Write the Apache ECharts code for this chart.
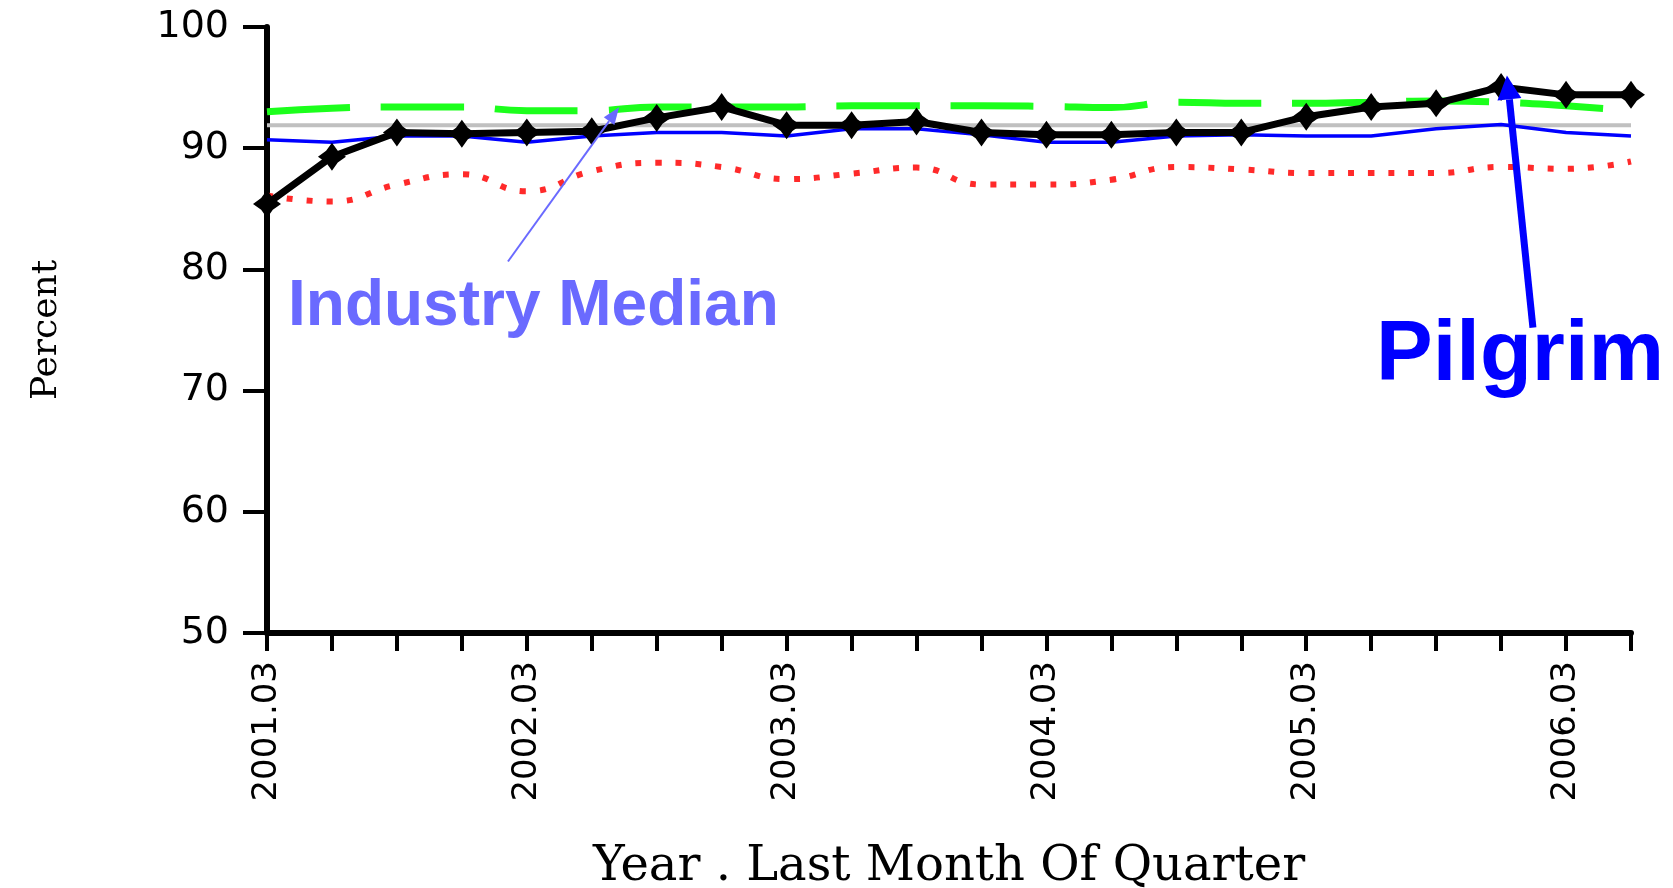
<!DOCTYPE html>
<html lang="en">
  <head>
    <meta charset="utf-8" />
    <title>Pilgrim vs Industry</title>
    <script src="https://cdn.jsdelivr.net/npm/echarts@6.0.0/dist/echarts.min.js"></script>
    <style>
      html, body { margin: 0; padding: 0; background: #fff; }
      #main { width: 1673px; height: 888px; }
    </style>
  </head>
  <body>
    <div id="main"></div>
    <script>
      // quarters (year . last month of quarter)
      var quarters = [
        "2001.03", "2001.06", "2001.09", "2001.12",
        "2002.03", "2002.06", "2002.09", "2002.12",
        "2003.03", "2003.06", "2003.09", "2003.12",
        "2004.03", "2004.06", "2004.09", "2004.12",
        "2005.03", "2005.06", "2005.09", "2005.12",
        "2006.03", "2006.06"
      ];
      var yTicks = [50, 60, 70, 80, 90, 100];

      var pilgrim = [85.4, 89.3, 91.3, 91.2, 91.3, 91.4, 92.5, 93.4, 91.9, 91.9, 92.2,
                     91.3, 91.1, 91.1, 91.3, 91.3, 92.6, 93.4, 93.7, 95.05, 94.4, 94.4];
      var industryMedian = [93.0, 93.3, 93.4, 93.4, 93.1, 93.1, 93.4, 93.4, 93.4, 93.5, 93.5,
                            93.5, 93.45, 93.35, 93.8, 93.7, 93.7, 93.8, 93.9, 93.8, 93.5, 93.1];
      var bluePeer = [90.7, 90.5, 91.0, 91.0, 90.5, 91.0, 91.3, 91.3, 91.0, 91.6, 91.6,
                      91.1, 90.5, 90.5, 91.0, 91.1, 91.0, 91.0, 91.6, 91.95, 91.3, 91.0];
      var redPeer = [86.1, 85.6, 87.0, 87.85, 86.45, 88.1, 88.8, 88.45, 87.45, 87.9, 88.4,
                     87.0, 87.0, 87.4, 88.45, 88.25, 87.95, 87.95, 87.95, 88.45, 88.3, 88.9];
      var grayRef = [91.9, 91.9, 91.9, 91.9, 91.9, 91.9, 91.9, 91.9, 91.9, 91.9, 91.9,
                     91.9, 91.9, 91.9, 91.9, 91.9, 91.9, 91.9, 91.9, 91.9, 91.9, 91.9];

      // annotation anchors in data space: [category index, percent]
      var medianArrow = [[3.71, 80.65], [5.42, 93.37]];
      var pilgrimArrow = [[19.49, 75.2], [19.09, 96.0]];

      var myChart = echarts.init(document.getElementById("main"));

      var option = {
        animation: false,
        backgroundColor: "#fff",
        grid: { left: 267, right: 42, top: 27, bottom: 255, outerBoundsMode: "none" },
        xAxis: {
          type: "category",
          data: quarters,
          boundaryGap: false,
          name: "Year . Last Month Of Quarter",
          nameLocation: "middle",
          nameGap: 211,
          nameTextStyle: { fontFamily: "DejaVu Serif", fontSize: 48, color: "#000" },
          axisLine: { lineStyle: { color: "#000", width: 6 } },
          axisTick: { interval: 0, length: 18, lineStyle: { color: "#000", width: 4 } },
          axisLabel: {
            interval: 3,
            rotate: 90,
            margin: 28,
            fontFamily: "DejaVu Sans",
            fontSize: 34,
            color: "#000"
          },
          splitLine: { show: false }
        },
        yAxis: {
          type: "value",
          min: yTicks[0],
          max: yTicks[yTicks.length - 1],
          interval: 10,
          name: "Percent",
          nameLocation: "middle",
          nameGap: 202,
          nameTextStyle: { fontFamily: "DejaVu Serif", fontSize: 36, color: "#000" },
          axisLine: { show: true, lineStyle: { color: "#000", width: 6 } },
          axisTick: { show: true, length: 24, lineStyle: { color: "#000", width: 4 } },
          axisLabel: {
            margin: 38,
            fontFamily: "DejaVu Sans",
            fontSize: 38,
            color: "#000"
          },
          splitLine: { show: false }
        },
        series: [
          {
            name: "Peer 2",
            type: "line",
            data: redPeer,
            smooth: true,
            symbol: "none",
            lineStyle: { color: "#ff2a2a", width: 6, type: [6, 14] }
          },
          {
            name: "Reference",
            type: "line",
            data: grayRef,
            symbol: "none",
            lineStyle: { color: "#c0c0c0", width: 4 }
          },
          {
            name: "Peer 1",
            type: "line",
            data: bluePeer,
            symbol: "none",
            lineStyle: { color: "#0000ff", width: 3.5 }
          },
          {
            name: "Industry Median",
            type: "line",
            data: industryMedian,
            smooth: true,
            symbol: "none",
            lineStyle: { color: "#1cff1c", width: 7, type: [83, 31] }
          },
          {
            name: "Pilgrim",
            type: "line",
            data: pilgrim,
            symbol: "path://M0,-12L5,-5L12,0L5,5L0,12L-5,5L-12,0L-5,-5Z",
            symbolSize: 28,
            itemStyle: { color: "#000" },
            lineStyle: { color: "#000", width: 7 }
          }
        ]
      };

      myChart.setOption(option);

      // data space -> pixels (fractional category index allowed)
      function toPx(p) {
        var x0 = myChart.convertToPixel({ xAxisIndex: 0 }, quarters[0]);
        var x1 = myChart.convertToPixel({ xAxisIndex: 0 }, quarters[1]);
        var y = myChart.convertToPixel({ yAxisIndex: 0 }, p[1]);
        return [x0 + (x1 - x0) * p[0], y];
      }

      function arrow(anchors, color, width, headLen, headWide) {
        var a = toPx(anchors[0]);
        var b = toPx(anchors[1]);
        var dx = b[0] - a[0], dy = b[1] - a[1];
        var len = Math.sqrt(dx * dx + dy * dy);
        var ux = dx / len, uy = dy / len;
        var bx = b[0] - ux * headLen, by = b[1] - uy * headLen;
        return [
          {
            type: "line",
            z: 100,
            shape: { x1: a[0], y1: a[1], x2: bx, y2: by },
            style: { stroke: color, lineWidth: width }
          },
          {
            type: "polygon",
            z: 100,
            shape: {
              points: [
                [b[0], b[1]],
                [bx - uy * headWide / 2, by + ux * headWide / 2],
                [bx + uy * headWide / 2, by - ux * headWide / 2]
              ]
            },
            style: { fill: color }
          }
        ];
      }

      var graphics = []
        .concat(arrow(medianArrow, "#6a6aff", 2, 17, 13))
        .concat(arrow(pilgrimArrow, "#0000ff", 7, 24, 24));

      graphics.push({
        type: "text",
        z: 100,
        left: 288,
        top: 275,
        style: {
          text: "Industry Median",
          font: 'bold 64px "Liberation Sans"',
          fill: "#6a6aff"
        }
      });
      graphics.push({
        type: "text",
        z: 100,
        left: 1376,
        top: 314,
        style: {
          text: "Pilgrim",
          font: 'bold 85px "Liberation Sans"',
          fill: "#0000ff"
        }
      });

      myChart.setOption({ graphic: graphics });
    </script>
  </body>
</html>
